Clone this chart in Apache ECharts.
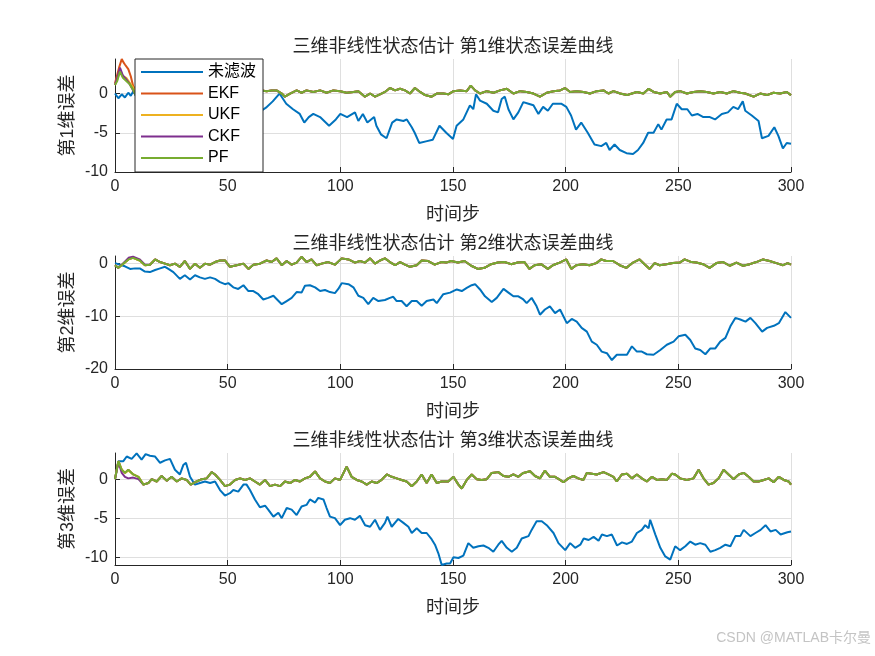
<!DOCTYPE html>
<html>
<head>
<meta charset="utf-8">
<title>三维非线性状态估计 状态误差曲线</title>
<script src="https://cdn.jsdelivr.net/npm/echarts@6/dist/echarts.min.js"></script>
<style>
  html, body { margin: 0; padding: 0; background: #fff; }
  #main { width: 875px; height: 656px; }
</style>
</head>
<body>
<div id="main"></div>
<script>
// 每个点为 [时间步, 误差]
// ---------- 第1维 ----------
const raw1 = [[0,0],[1.5,-0.6],[3,-0.1],[4.4,-0.5],[5.9,0.1],[7,-0.3],[8.1,0.3],[9.3,-0.3],
  [15,-0.5],[20,-0.3],[25,-0.9],[30,-0.7],[35,-1.3],[40,-1.0],[45,-1.6],[50,-1.4],[55,-1.9],[60,-1.7],
  [65,-2.2],[67,-1.8],[70,-1.0],[73,0.0],[76,-1.3],[79,-2.0],[82,-2.6],[84,-3.7],[86,-3.0],[88,-2.6],
  [91,-3.0],[95,-4.1],[98,-3.3],[100,-2.6],[103,-3.0],[106.5,-2.4],[108,-3.5],[110,-2.6],[112,-3.7],
  [115,-3.0],[116,-4.1],[118,-5.2],[120.5,-5.7],[123,-3.7],[125,-3.3],[128,-3.5],[129.5,-3.3],
  [131.7,-4.3],[133,-5.0],[135,-6.3],[138,-6.1],[141,-5.9],[144,-4.1],[147,-5.0],[150,-5.8],
  [151.6,-4.1],[154.6,-3.3],[157.5,-1.5],[159,-2.0],[160.2,-0.1],[162,-0.9],[165,-1.3],[167.9,-2.2],
  [170,-2.4],[171.6,-0.7],[173,-0.4],[174.6,-2.0],[176.8,-3.3],[179,-2.4],[181.2,-1.1],[183.5,-1.3],
  [185.7,-1.5],[187.9,-2.6],[190,-1.7],[192.1,-2.2],[194.3,-1.3],[198,-1.3],[200.3,-1.7],[202.4,-2.8],
  [204.6,-4.6],[206.9,-3.7],[209.8,-5.0],[212.8,-6.5],[215.8,-6.7],[218,-6.3],[219.5,-7.2],[221.7,-6.5],
  [224,-7.2],[227,-7.6],[229.9,-7.7],[232.1,-7.2],[234.4,-6.3],[236.6,-5.0],[239,-5.0],[241.1,-3.9],
  [242.5,-4.6],[244.8,-3.3],[247,-3.3],[249.3,-1.3],[251.5,-2.0],[254,-2.0],[256,-2.8],[258.5,-2.6],
  [261.1,-3.0],[264,-3.0],[266.3,-3.3],[269.3,-2.6],[272,-2.4],[274.4,-1.7],[276.5,-2.0],[278.6,-1.0],
  [279.7,-2.2],[282.6,-2.8],[285.6,-3.5],[287.1,-5.7],[290,-5.4],[292.6,-4.3],[294.4,-5.4],[296.4,-7.0],
  [298.1,-6.3],[300,-6.4]];
const ekfHead1 = [[0,1.3],[1.8,3.3],[3,4.4],[3.7,4.0],[4.4,3.7],[5.9,3.1],[7,2.2],[8.1,0.9],[9.3,0.5]];
const ukfHead1 = [[0,1.1],[1,1.8],[2.2,3.0],[3.5,2.2],[5,2.0],[6.5,1.4],[8,0.8],[9.3,0.2]];
const ckfHead1 = [[0,1.1],[1,2.0],[2.2,3.3],[3.5,2.3],[5,1.8],[6.5,1.2],[8,0.4],[9.3,-0.2]];
const pfHead1 = [[0,1.1],[1,1.6],[2.2,2.8],[3.5,2.0],[5,1.6],[6.5,1.2],[8,0.5],[9.3,-0.3]];
// 四种滤波曲线在此之后基本重合
const filtTail1 = [[12,0.2],[20,0.4],[28,-0.2],[36,0.3],[44,0.0],[52,0.4],[60,0.2],
  [65,0.4],[67.3,0.3],[69.5,0.4],[71.7,0.4],[74,0],[75.4,-0.4],[77.7,0],[80.6,0.4],[82.8,0.1],[85,0.4],
  [88,0.2],[91,0.4],[93.9,0.1],[96.9,0.4],[99.9,0.3],[102.8,0.1],[105.8,0.2],[108,0.3],[110.9,-0.4],
  [113.2,0],[115.4,-0.4],[117.6,-0.1],[119.8,0.2],[122,0.7],[124.3,0.4],[126.5,0.6],[128.7,0.4],
  [130.9,0],[133.1,0.7],[135.4,0.2],[137.6,-0.2],[140.5,-0.4],[142.8,0],[145.7,0],[147.9,-0.1],
  [150.2,0.3],[153.1,0.4],[156.1,0.3],[157.9,1.0],[159.8,0.4],[162,0],[165,0.3],[168,0.1],[170.9,0.4],
  [173.9,0.6],[176.8,0],[179.8,0.3],[182.7,0.2],[185.7,0],[188.6,-0.4],[191.6,0.1],[194.6,0.3],
  [197.5,0.4],[199.7,0.7],[202,0.2],[204.9,0.3],[207.9,0.2],[210.8,0],[213.8,0.3],[216.8,0.4],[219,0],
  [221.2,0.3],[224.2,0],[227.2,-0.2],[229.4,0],[231.6,0.2],[234.5,0],[236.8,0.6],[239,0.2],[242,0],
  [244.9,0.2],[246.4,-0.4],[248.6,0.2],[250.8,0.3],[253.8,0],[256.7,0.2],[259.7,0.3],[262.6,0.2],
  [265.6,0],[268.6,0.2],[271.5,0],[274.5,0.3],[277.5,0.1],[279.7,0],[283.4,-0.4],[286.3,0],[289.3,-0.2],
  [292.2,0.1],[295.2,0],[298.1,0.2],[300,-0.2]];

// ---------- 第2维 ----------
const raw2 = [[0,0.1],[2.2,-0.2],[4.4,-0.5],[6.7,-1.0],[8.9,-0.9],[11,-0.9],[13.3,-1.5],[15.5,-1.6],
  [17.8,-1.2],[20,-0.9],[22.2,-0.6],[23.7,-1.0],[25.9,-1.6],[28.8,-2.9],[31,-2.2],[33.3,-3.0],[35.5,-2.2],
  [37.7,-2.6],[39.9,-2.9],[42.2,-2.6],[44.4,-2.9],[46.6,-3.5],[48.8,-3.9],[50.3,-3.7],[52.5,-4.5],
  [54.7,-4.8],[57,-4.1],[59.2,-5.2],[61.4,-5.2],[63.6,-5.8],[65.8,-6.8],[68,-6.5],[70.3,-6.1],
  [71.7,-6.7],[74,-7.7],[76.2,-7.1],[78.4,-6.5],[80.6,-5.4],[82.8,-5.5],[84.3,-4.2],[86.5,-4.1],
  [88.8,-4.5],[91,-5.2],[93.2,-5.0],[95.4,-5.4],[97.6,-5.6],[99.1,-4.8],[100.6,-3.7],[103.6,-3.9],
  [105.8,-4.5],[108,-6.1],[110.2,-6.5],[112.4,-7.7],[114.6,-6.5],[116.9,-7.1],[119.8,-6.9],[122,-6.5],
  [123.5,-6.3],[125,-7.1],[127.2,-7.1],[129.4,-8.1],[131.7,-7.1],[133.9,-7.1],[136.1,-8.0],[138.3,-7.1],
  [141.3,-6.8],[142.8,-7.5],[145.7,-5.8],[148.7,-5.5],[151.7,-4.9],[153.9,-5.2],[156.1,-4.6],[158.3,-4.1],
  [159.8,-3.9],[162,-4.9],[164.2,-6.2],[167.2,-7.3],[169.4,-6.5],[172.4,-4.8],[174.6,-5.5],[176.8,-6.2],
  [179,-6.2],[181.2,-6.8],[182.7,-7.5],[184.9,-6.5],[187.1,-8.1],[188.6,-9.7],[190.8,-8.7],[193,-8.1],
  [195.3,-9.4],[197.5,-8.7],[200.5,-11.3],[202.7,-10.5],[204.9,-11.0],[207.1,-12.2],[209.4,-12.9],
  [211.6,-14.8],[213.8,-15.4],[216,-16.7],[218.3,-17.0],[220.5,-18.3],[222.7,-17.3],[224.9,-17.3],
  [227.2,-17.3],[229.4,-15.7],[231.6,-16.7],[233.8,-16.7],[236,-17.2],[239,-17.3],[242,-16.4],
  [244.9,-15.4],[247.9,-14.8],[250.1,-13.8],[253.1,-13.5],[255.3,-14.5],[257.5,-16.1],[259.7,-16.4],
  [262,-17.2],[264.2,-16.1],[266.4,-16.1],[268.6,-14.8],[270.9,-14.1],[273.1,-11.9],[275.3,-10.3],
  [277.5,-10.6],[279.8,-11.0],[282,-10.3],[284.2,-11.3],[287.2,-12.9],[289.4,-12.2],[292.4,-11.8],
  [294.6,-11.3],[297.5,-9.2],[300,-10.3]];
const ekfHead2 = [[0,-0.3],[1.5,-0.8],[3.7,0],[6,0.8],[8,1.1],[11,0.6],[13.3,-0.3]];
const ukfHead2 = [[0,-0.3],[1.5,-0.8],[3.7,0],[6,0.9],[8,1.1],[11,0.6],[13.3,-0.3]];
const ckfHead2 = [[0,-0.3],[1.5,-0.8],[3.7,0.1],[6,1.1],[8,1.3],[11,0.8],[13.3,-0.2]];
const pfHead2 = [[0,-0.3],[1.5,-0.8],[3.7,0],[6,0.8],[8,1.1],[11,0.6],[13.3,-0.3]];
const filtTail2 = [[15.5,-0.2],[17.8,0.8],[20,0.3],[22.2,0],[24.4,-0.3],[26.6,0],[28.8,-0.6],[31,0.5],
  [33.3,-1.0],[35.5,0],[37.7,-0.8],[39.9,0],[42.2,-0.2],[44.4,0.3],[46.6,0.6],[48.8,0.6],[51,-0.6],
  [54,-0.3],[57,0],[59.2,-1.0],[61.4,-0.2],[64.3,0],[67.3,0.6],[69.5,0.3],[71.7,1.0],[74,-0.3],[76.2,0.5],
  [78.4,-0.2],[80.6,0.2],[82.8,1.3],[85,0.3],[87.2,0.8],[89.5,-0.3],[91.7,0],[94.6,0.3],[97.6,-0.2],
  [100.6,1.0],[103.6,0.8],[106.5,0.2],[108.7,0.5],[111,0.2],[113.2,1.0],[115.4,0],[117.6,0.6],
  [119.8,1.0],[122,0.3],[124.3,-0.3],[126.5,0.3],[128.7,-0.2],[130.9,-0.6],[133.9,-0.3],[136.1,0.6],
  [139,0.5],[141.9,-0.2],[144.8,0.3],[147,0.2],[149.2,0.5],[152.2,0.2],[155.1,0.5],[158.1,-0.4],
  [161,-1.0],[164,-0.8],[166.9,-0.1],[169.9,0.2],[172.8,0.3],[175.8,-0.1],[178.7,0.2],[181.7,0.3],
  [183.9,-1.0],[186.2,-0.3],[189.1,-0.1],[192.1,-1.0],[194.3,-0.3],[197.3,0.2],[200.3,0.8],[202.5,-1.0],
  [204.7,-0.3],[207.7,-0.1],[210.6,-0.3],[213.6,0.1],[215.8,0.8],[218,0.5],[221,0.5],[224,-0.3],
  [226.9,-0.8],[229.9,0.2],[232.8,0.8],[235,-0.1],[237.3,-1.0],[239.5,0.1],[241.7,-0.3],[244.7,-0.1],
  [247.6,0.1],[250.6,0.2],[252.8,0.8],[255.8,0.3],[258,0.2],[261,-0.1],[263.9,-0.8],[266.9,0.1],
  [269.9,0.3],[272.8,-0.4],[275.8,0.2],[278.7,-0.4],[281.7,-0.1],[284.6,0.3],[287.6,0.8],[290.5,0.5],
  [293.5,0.1],[296.5,-0.3],[298.5,0.1],[300,-0.2]];

// ---------- 第3维 ----------
const raw3 = [[0,0],[1.5,2.3],[3.7,2.3],[5.2,2.9],[7.4,2.6],[9.6,3.3],[11.8,2.5],[13.6,3.2],[15.5,3.0],
  [17.8,2.9],[20,2.1],[22.2,2.4],[24.4,2.6],[26.6,1.2],[28.8,0.6],[30.3,1.8],[31.5,2.1],[33.3,0.3],
  [35.5,-0.7],[37.7,-0.5],[39.9,-0.3],[42.2,-0.5],[44.4,-0.3],[46.6,-1.4],[48.8,-2.1],[51,-1.8],
  [52.5,-1.4],[54.7,-1.6],[57,-0.7],[58.4,-0.7],[59.9,-1.4],[62.1,-2.6],[64.3,-3.6],[66.6,-3.4],
  [68,-3.9],[70.3,-4.8],[72.5,-4.3],[74,-5.0],[76.2,-3.7],[78.4,-3.9],[80.6,-4.6],[82.8,-3.5],[85,-3.3],
  [86.5,-2.6],[88.8,-3.0],[90.2,-2.4],[92.5,-2.6],[93.9,-3.7],[95.4,-4.8],[97.6,-5.0],[99.9,-5.9],
  [102,-5.2],[104.3,-5.0],[106.5,-5.2],[108.7,-4.7],[111,-5.9],[113.2,-6.1],[115.4,-5.2],[117.6,-6.5],
  [119.8,-5.6],[120.9,-4.8],[122.8,-6.1],[125.7,-5.1],[128,-5.6],[130.2,-6.1],[131.7,-6.9],[133.9,-6.3],
  [136.1,-6.9],[138.3,-6.9],[140.5,-7.7],[142,-8.4],[143.5,-9.5],[145,-11.0],[147.2,-10.8],[148.7,-10.8],
  [150.2,-10.0],[152.4,-10.1],[154.6,-9.8],[156.8,-8.2],[159,-8.8],[161.3,-8.6],[163.5,-8.5],
  [165.7,-8.8],[167.9,-9.3],[170.1,-8.4],[171.6,-7.9],[173.9,-8.8],[176.1,-9.3],[178.3,-8.8],
  [180.5,-7.6],[183.5,-7.3],[184.9,-6.5],[187.1,-5.4],[189.4,-5.4],[191.6,-5.9],[194.6,-6.9],
  [196.8,-8.2],[199.8,-9.1],[202,-8.2],[204.2,-8.8],[206.5,-8.4],[208,-7.6],[210.2,-7.8],[212.4,-7.4],
  [214.6,-7.9],[216.1,-7.1],[218.3,-7.3],[220.5,-7.1],[222.8,-8.5],[225,-8.1],[227.2,-8.3],[229.4,-8.0],
  [231.6,-6.9],[233.8,-6.5],[235.3,-5.9],[236.8,-6.3],[237.5,-5.2],[239.8,-7.1],[242,-8.8],[244.2,-9.9],
  [246.4,-10.3],[248.6,-8.6],[250.8,-9.1],[253.1,-8.6],[255.3,-8.0],[257.5,-8.4],[259.7,-8.2],
  [262,-8.4],[264.2,-9.3],[266.4,-9.1],[268.6,-8.8],[270.9,-8.4],[273.1,-8.6],[275.3,-7.3],[277.5,-7.3],
  [279,-6.5],[282,-7.3],[284.2,-6.9],[286.5,-6.5],[288.7,-5.9],[290.9,-6.7],[293.2,-6.5],[295.4,-7.1],
  [298.4,-6.8],[300,-6.7]];
const ekfHead3 = [[0,0],[1.5,2.3],[3,1.2],[4.4,0.8],[5.9,1.2],[8.1,0.6],[10.4,0.3]];
const ukfHead3 = [[0,0],[1.5,2.3],[3,1.2],[4.4,0.8],[5.9,1.1],[8.1,0.6],[10.4,0.3]];
const ckfHead3 = [[0,0],[1.5,2.2],[3,0.8],[4.4,0.3],[5.9,0.1],[8.1,0.2],[10.4,0]];
const pfHead3 = [[0,0],[1.5,2.3],[3,1.2],[4.4,0.8],[5.9,1.2],[8.1,0.6],[10.4,0.3]];
const filtTail3 = [[12.6,-0.7],[14.8,-0.5],[16.3,0],[18.5,-0.3],[20.7,0.4],[23,-0.2],[25.1,0.3],
  [27.4,-0.3],[29.6,0.1],[31.8,-0.1],[33.6,-0.7],[36.2,-0.3],[38.5,0],[40.7,0.1],[42.9,0.9],[44.4,0.6],
  [46.6,-0.1],[48.8,-0.9],[51,-0.7],[53.3,-0.1],[55.5,0.1],[57.7,-0.1],[59.9,0.1],[62.1,-0.3],
  [64.3,-0.7],[66.6,-0.1],[68.8,-0.9],[71,-0.7],[73.2,-0.9],[75.4,-0.3],[77.7,-0.5],[79.9,-0.1],
  [82.1,-0.3],[84.3,0.1],[86.5,0.3],[88.8,1.0],[91,0.1],[93.2,-0.3],[95.4,-0.5],[97.6,0.1],[99.9,-0.1],
  [102.8,1.6],[105,0.3],[107.3,-0.1],[109.5,-0.3],[111.7,-0.7],[113.9,-0.3],[116.1,-0.5],[118.3,-0.1],
  [120.6,0.6],[122.8,0.3],[125,0.1],[127.2,-0.1],[129.4,-0.3],[131.7,-0.9],[133.9,-0.3],[136.1,0.6],
  [138.3,-0.5],[140.5,0.6],[142.8,-0.5],[144.9,-0.3],[147.9,-0.3],[150.2,0.3],[152.4,-0.7],[153.9,-1.2],
  [156.1,-0.1],[158.3,0.6],[160.5,0],[162.7,-0.1],[165,0],[167.2,0.8],[170.1,0.9],[172.4,0.4],
  [174.6,0.3],[176.8,0.6],[179,0.3],[181.2,0.8],[184.2,1.0],[186.4,0.4],[188.6,0.1],[190.8,1.1],
  [193,0.3],[195.3,0.3],[197.5,-0.1],[199,-0.4],[201.2,0.1],[203.4,0.4],[205.6,0.1],[207.9,-0.1],
  [209.4,0.8],[211.6,0.7],[213.8,0.6],[216.8,0.9],[219,0.6],[221.2,0.3],[222.7,-0.3],[224.9,0.6],
  [227.2,0.7],[229.4,0.1],[231.6,0.6],[233.8,0.1],[236,-0.3],[238.3,0.3],[240.5,-0.1],[242.7,0],
  [244.9,-0.1],[247.2,0.7],[248.6,0.6],[250.8,0.1],[253.8,-0.1],[256.7,0.1],[259,1.2],[261.2,0.1],
  [263.4,-0.7],[265.6,-0.5],[267.9,0.1],[270.1,1.2],[272.3,0.6],[274.5,0],[276.8,0.6],[279,0.8],
  [281.2,0.3],[283.4,-0.3],[285.6,-0.3],[287.9,-0.1],[290.1,0.1],[292.3,-0.4],[294.6,0.3],[296.8,-0.1],
  [299,-0.3],[300,-0.7]];

const seriesNames = ['未滤波', 'EKF', 'UKF', 'CKF', 'PF'];
const seriesColors = ['#0072BD', '#D95319', '#EDB120', '#7E2F8E', '#77AC30'];
const xTicks = [0, 50, 100, 150, 200, 250, 300];

const dims = [
  { title: '三维非线性状态估计 第1维状态误差曲线', ylabel: '第1维误差', ymin: -10, ymax: 4.4,
    lines: [raw1, ekfHead1.concat(filtTail1), ukfHead1.concat(filtTail1), ckfHead1.concat(filtTail1), pfHead1.concat(filtTail1)] },
  { title: '三维非线性状态估计 第2维状态误差曲线', ylabel: '第2维误差', ymin: -20, ymax: 1.45,
    lines: [raw2, ekfHead2.concat(filtTail2), ukfHead2.concat(filtTail2), ckfHead2.concat(filtTail2), pfHead2.concat(filtTail2)] },
  { title: '三维非线性状态估计 第3维状态误差曲线', ylabel: '第3维误差', ymin: -11, ymax: 3.35,
    lines: [raw3, ekfHead3.concat(filtTail3), ukfHead3.concat(filtTail3), ckfHead3.concat(filtTail3), pfHead3.concat(filtTail3)] }
];
const yStep = [5, 10, 5];

const FONT = '"Liberation Sans", Arial, "Noto Sans CJK SC", sans-serif';
const INK = '#262626';
const gridTops = [59, 256, 453];
const gridHeights = [113, 113, 112];

var chart = echarts.init(document.getElementById('main'), null, { renderer: 'canvas' });

var grids = [], xAxes = [], yAxes = [], titles = [], series = [];
dims.forEach(function (d, i) {
  grids.push({ left: 115, width: 676, top: gridTops[i], height: gridHeights[i], containLabel: false });
  titles.push({
    text: d.title, left: 453, top: gridTops[i] - 21, textAlign: 'center', padding: 0,
    textStyle: { fontSize: 18, fontWeight: 'normal', color: INK, fontFamily: FONT, lineHeight: 18 }
  });
  xAxes.push({
    type: 'value', gridIndex: i, min: xTicks[0], max: xTicks[xTicks.length - 1], interval: 50,
    name: '时间步', nameLocation: 'middle', nameGap: 34, nameMoveOverlap: false,
    nameTextStyle: { fontSize: 18, color: INK, fontFamily: FONT },
    axisLine: { onZero: false, lineStyle: { color: INK, width: 1 } },
    axisTick: { inside: true, length: 5, lineStyle: { color: INK } },
    axisLabel: { fontSize: 16, color: INK, fontFamily: FONT, margin: 7 },
    splitLine: { show: true, lineStyle: { color: '#dfdfdf', width: 1 } }
  });
  var y = {
    type: 'value', gridIndex: i, min: d.ymin, max: d.ymax,
    name: d.ylabel, nameLocation: 'middle', nameRotate: 90, nameGap: 38, nameMoveOverlap: false,
    nameTextStyle: { fontSize: 18, color: INK, fontFamily: FONT },
    axisLine: { show: true, onZero: false, lineStyle: { color: INK, width: 1 } },
    axisTick: { show: true, inside: true, length: 5, lineStyle: { color: INK } },
    axisLabel: { fontSize: 16, color: INK, fontFamily: FONT, margin: 7, showMaxLabel: false },
    splitLine: { show: true, showMaxLine: false, lineStyle: { color: '#dfdfdf', width: 1 } }
  };
  if (d.ymin % yStep[i] === 0) {
    y.interval = yStep[i];
  } else {
    // 下限不是整刻度：用 min/maxInterval 固定步长，刻度仍落在整数倍上
    y.minInterval = yStep[i];
    y.maxInterval = yStep[i];
    y.axisLabel.showMinLabel = false;
    y.splitLine.showMinLine = false;
  }
  yAxes.push(y);

  d.lines.forEach(function (pts, k) {
    series.push({
      name: seriesNames[k], type: 'line', xAxisIndex: i, yAxisIndex: i,
      data: pts, showSymbol: false, symbol: 'none', clip: true,
      lineStyle: { color: seriesColors[k], width: 2 },
      itemStyle: { color: seriesColors[k] },
      animation: false
    });
  });
});

var option = {
  backgroundColor: '#fff',
  animation: false,
  title: titles,
  grid: grids,
  xAxis: xAxes,
  yAxis: yAxes,
  legend: {
    data: seriesNames, orient: 'vertical', left: 135, top: 59,
    icon: 'rect', itemWidth: 62, itemHeight: 2, itemGap: 5.5,
    padding: [5, 7, 6, 6],
    backgroundColor: '#fff', borderColor: INK, borderWidth: 1, borderRadius: 0,
    textStyle: { fontSize: 16, color: '#000', fontFamily: FONT, lineHeight: 16 },
    selectedMode: false
  },
  graphic: [{
    type: 'text', right: 4, top: 631,
    style: { text: 'CSDN @MATLAB卡尔曼', fontSize: 14, fill: '#c4c4c4', fontFamily: FONT }
  }],
  series: series
};
chart.setOption(option);
</script>
</body>
</html>
